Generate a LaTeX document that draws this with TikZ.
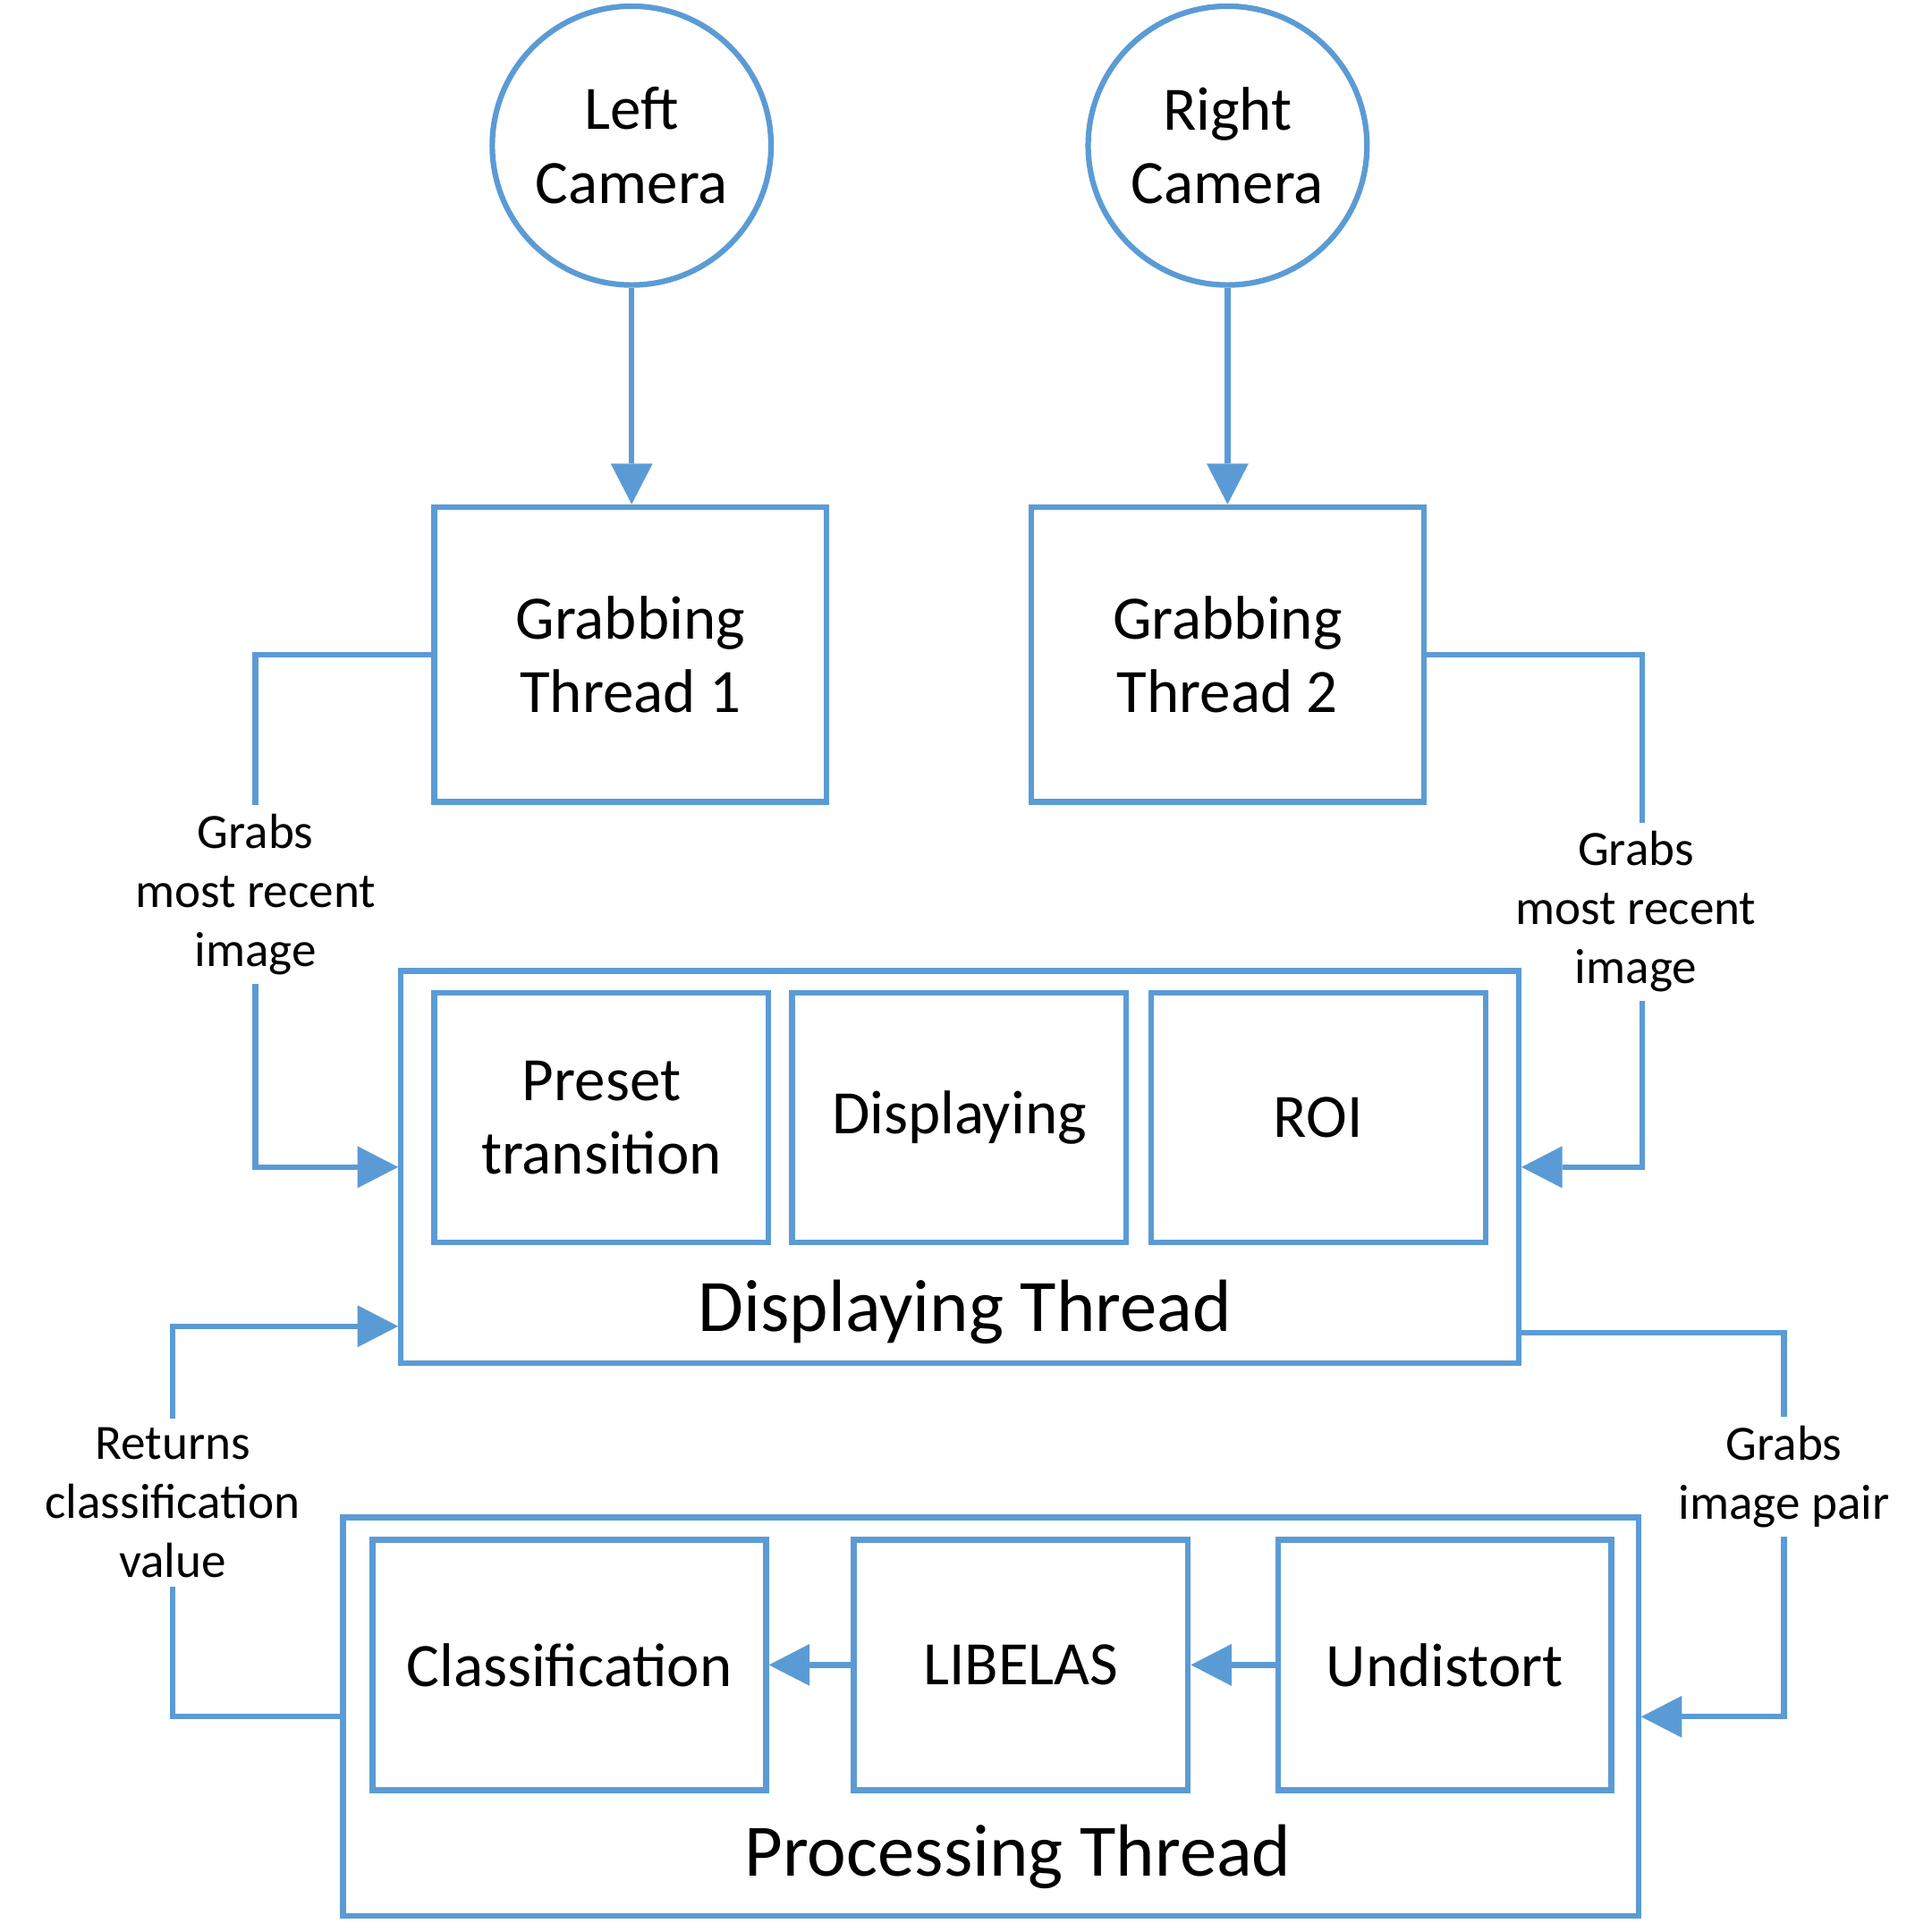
\documentclass[tikz,border=0pt]{standalone}
\usepackage{fontspec}
\setmainfont{Carlito}
\usetikzlibrary{arrows.meta}
\definecolor{ob}{HTML}{5B9BD5}
\pgfdeclarelayer{bg}
\pgfsetlayers{bg,main}
\begin{document}
\begin{tikzpicture}[x=1pt,y=-1pt,
  blk/.style n args={2}{draw=ob, line width=4.5pt, rectangle, minimum width=#1pt, minimum height=#2pt, inner sep=0pt, align=center, font=\fontsize{50}{60}\selectfont},
  cam/.style={draw=ob, line width=4.5pt, circle, minimum size=226pt, inner sep=0pt, align=center, font=\fontsize{50}{60}\selectfont},
  conn/.style={draw=ob, line width=4.5pt, -{Triangle[length=33pt,width=34pt,line width=0pt]}},
  lab/.style={fill=white, inner xsep=2pt, inner ysep=7pt, align=center, font=\fontsize{40}{48}\selectfont},
  ttl/.style={anchor=base, inner sep=0pt, font=\fontsize{60}{72}\selectfont}]
\useasboundingbox (0,0) rectangle (1566,1566);

% cameras
\node[cam] (lc) at (512,118) {Left\\Camera};
\node[cam] (rc) at (995,118) {Right\\Camera};

% grabbing threads
\node[blk={318}{239}] (gt1) at (511,530.5) {Grabbing\\Thread 1};
\node[blk={318}{239}] (gt2) at (995,530.5) {Grabbing\\Thread 2};

% displaying thread
\node[blk={906}{318}] (disp) at (778,946) {};
\node[blk={271}{202}] (pre) at (487.5,906) {Preset\\transition};
\node[blk={271}{202}] (dsp) at (777.5,906) {Displaying};
\node[blk={271}{202}] (roi) at (1068.5,906) {ROI};
\node[ttl] (dlab) at (782,1079) {Displaying Thread};

% processing thread
\node[blk={1050}{323}] (proc) at (803,1391.5) {};
\node[blk={319}{203}] (cls) at (461.5,1349.5) {Classification};
\node[blk={271}{203}] (lib) at (827.5,1349.5) {LIBELAS};
\node[blk={270}{203}] (und) at (1171,1349.5) {Undistort};
\node[ttl] (plab) at (825,1521) {Processing Thread};

% bend points
\coordinate (lx) at (207,530.5);
\coordinate (rx) at (1331,530.5);
\coordinate (d1) at (1446,1080);
\coordinate (r2) at (140,1075);

\begin{pgfonlayer}{bg}
% connectors
\draw[conn] (lc.south) -- (lc.south |- gt1.north);
\draw[conn] (rc.south) -- (rc.south |- gt2.north);
\draw[conn] (gt1.west) -- (lx) |- (disp.west);
\draw[conn] (gt2.east) -- (rx) |- (disp.east);
\draw[conn] (disp.east |- d1) -- (d1) |- (proc.east);
\draw[conn] (proc.west) -| (r2) -- (disp.west |- r2);
\draw[conn] (und.west) -- (lib.east);
\draw[conn] (lib.west) -- (cls.east);

% labels
\node[lab] (l1) at (207,725) {Grabs\\most recent\\image};
\node[lab] (l2) at (1326,739) {Grabs\\most recent\\image};
\node[lab] (l3) at (1446,1197) {Grabs\\image pair};
\node[lab] (l4) at (140,1218) {Returns\\classification\\value};
\end{pgfonlayer}
\end{tikzpicture}
\end{document}
